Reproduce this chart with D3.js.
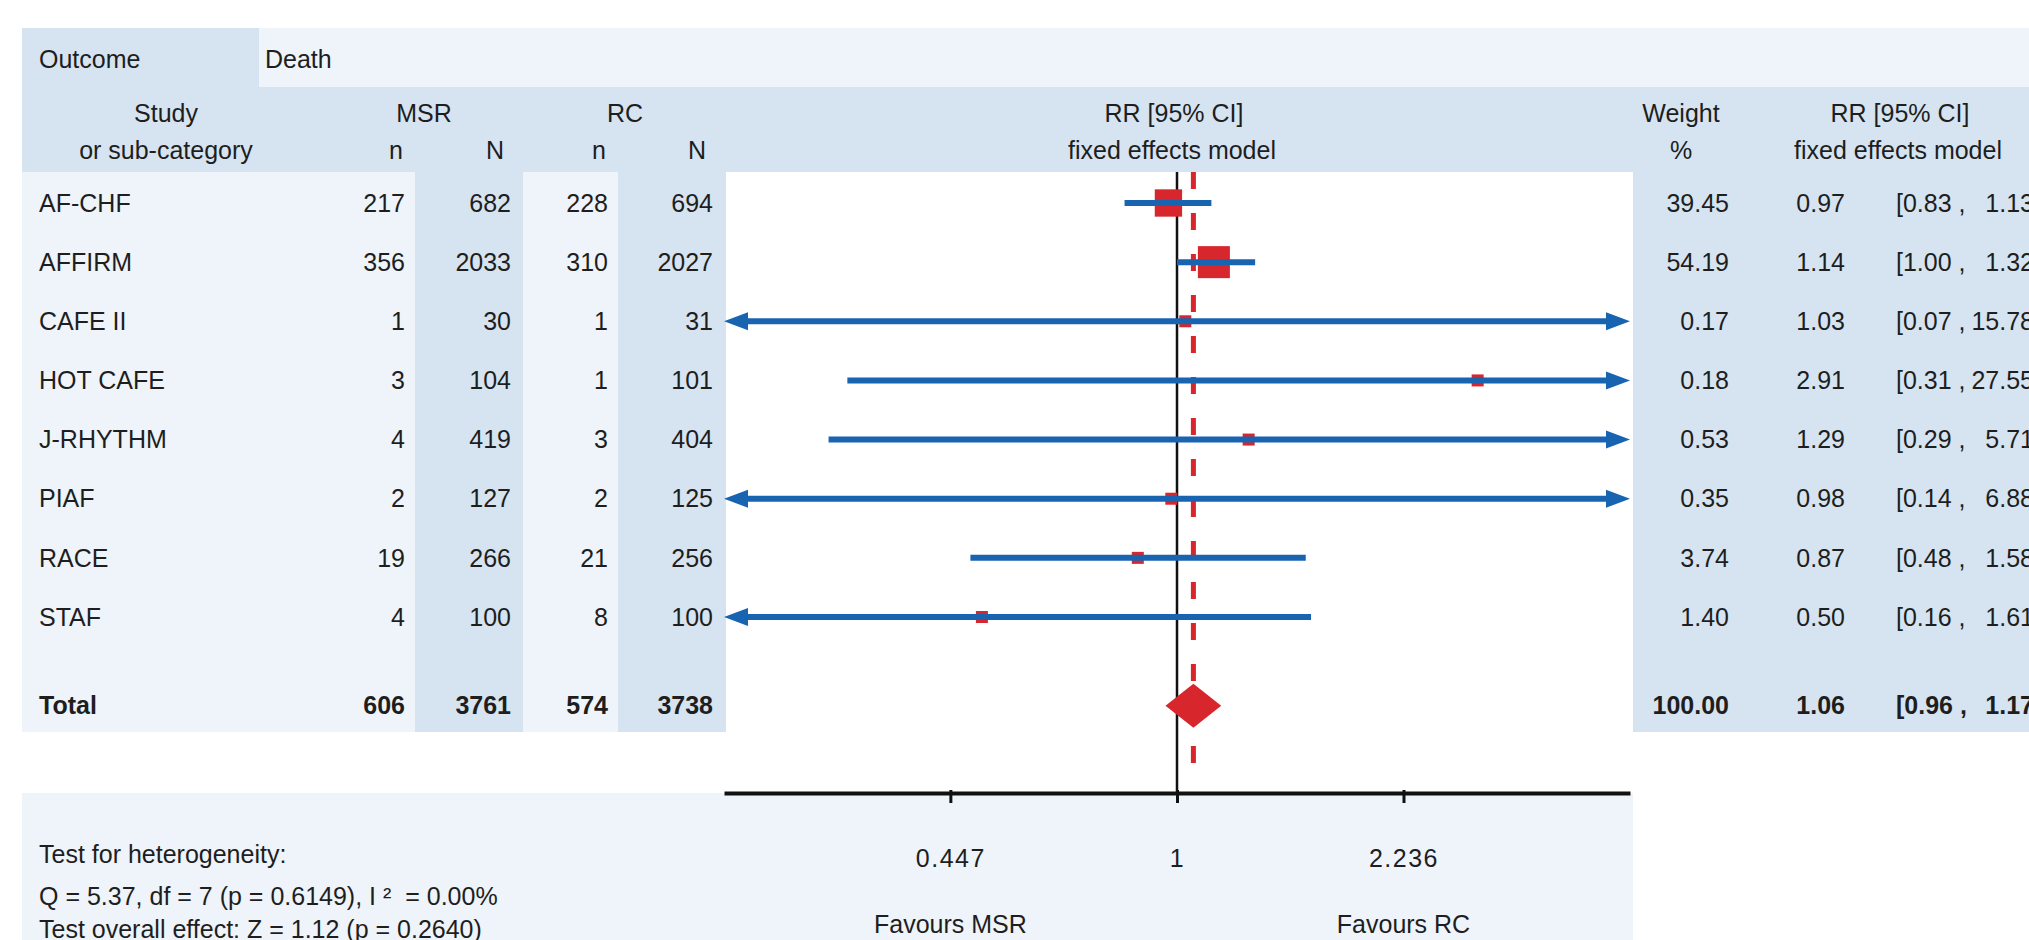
<!DOCTYPE html>
<html>
<head>
<meta charset="utf-8">
<script src="https://cdn.jsdelivr.net/npm/d3@7"></script>
<style>
  body { margin: 0; background: #fff; }
  svg text { font-family: "Liberation Sans", Arial, sans-serif; fill: #1e1e1e; white-space: pre; }
</style>
</head>
<body>
<div id="chart"></div>
<script>
// forest plot data
var studies    = ["AF-CHF", "AFFIRM", "CAFE II", "HOT CAFE", "J-RHYTHM", "PIAF", "RACE", "STAF"];
var msr_n      = [217, 356, 1, 3, 4, 2, 19, 4];
var msr_N      = [682, 2033, 30, 104, 419, 127, 266, 100];
var rc_n       = [228, 310, 1, 1, 3, 2, 21, 8];
var rc_N       = [694, 2027, 31, 101, 404, 125, 256, 100];
var weights    = [39.45, 54.19, 0.17, 0.18, 0.53, 0.35, 3.74, 1.40];
var rr         = [0.97, 1.14, 1.03, 2.91, 1.29, 0.98, 0.87, 0.50];
var ci_low     = [0.83, 1.00, 0.07, 0.31, 0.29, 0.14, 0.48, 0.16];
var ci_high    = [1.13, 1.32, 15.78, 27.55, 5.71, 6.88, 1.58, 1.61];

var total_counts = [606, 3761, 574, 3738];
var total_est    = [100.00, 1.06, 0.96, 1.17];   // weight, rr, low, high

var axis_ticks = [0.447, 1, 2.236];
var favours    = ["Favours MSR", "Favours RC"];
var foot_lines = ["Test for heterogeneity:",
                  "Q = 5.37, df = 7 (p = 0.6149), I \u00B2  = 0.00%",
                  "Test overall effect: Z = 1.12 (p = 0.2640)"];

var W = 2029, H = 940;
var dark = "#d6e4f1", light = "#eef4fa";
var red = "#d7262c", blue = "#1864b1";
var fs = 25;

var svg = d3.select("#chart").append("svg")
  .attr("width", W).attr("height", H);

var x = d3.scaleLog().domain([0.2, 5]).range([724, 1630]);
var y = d3.scaleLinear().domain([0, 7]).range([203, 617]);
var totalRow = 8.5;
var f2 = d3.format(".2f");

// ---- backgrounds
var bg = svg.append("g");
bg.append("rect").attr("x", 22).attr("y", 28).attr("width", 237).attr("height", 59).attr("fill", dark);
bg.append("rect").attr("x", 259).attr("y", 28).attr("width", W - 259).attr("height", 59).attr("fill", light);
bg.append("rect").attr("x", 22).attr("y", 87).attr("width", W - 22).attr("height", 85).attr("fill", dark);
bg.append("rect").attr("x", 22).attr("y", 172).attr("width", 704).attr("height", 560).attr("fill", light);
bg.append("rect").attr("x", 415).attr("y", 172).attr("width", 108).attr("height", 560).attr("fill", dark);
bg.append("rect").attr("x", 618).attr("y", 172).attr("width", 108).attr("height", 560).attr("fill", dark);
bg.append("rect").attr("x", 1633).attr("y", 172).attr("width", W - 1633).attr("height", 560).attr("fill", dark);
bg.append("rect").attr("x", 22).attr("y", 793).attr("width", 1611).attr("height", H - 793).attr("fill", light);

function txt(g, s, px, py, anchor, bold) {
  return g.append("text")
    .attr("x", px).attr("y", py)
    .attr("dy", "0.35em")
    .attr("text-anchor", anchor || "start")
    .attr("font-size", fs)
    .attr("font-weight", bold ? "bold" : null)
    .text(s);
}

// ---- header texts
var hd = svg.append("g");
txt(hd, "Outcome", 39, 59);
txt(hd, "Death", 265, 59);
txt(hd, "Study", 166, 113, "middle");
txt(hd, "or sub-category", 166, 150, "middle");
txt(hd, "MSR", 424, 113, "middle");
txt(hd, "n", 403, 150, "end");
txt(hd, "N", 504, 150, "end");
txt(hd, "RC", 625, 113, "middle");
txt(hd, "n", 606, 150, "end");
txt(hd, "N", 706, 150, "end");
txt(hd, "RR [95% CI]", 1174, 113, "middle");
txt(hd, "fixed effects model", 1172, 150, "middle");
txt(hd, "Weight", 1681, 113, "middle");
txt(hd, "%", 1681, 150, "middle");
txt(hd, "RR [95% CI]", 1900, 113, "middle");
txt(hd, "fixed effects model", 1898, 150, "middle");

// ---- table rows
var tb = svg.append("g");
studies.forEach(function(name, i) {
  var yy = y(i);
  txt(tb, name, 39, yy);
  txt(tb, msr_n[i], 405, yy, "end");
  txt(tb, msr_N[i], 511, yy, "end");
  txt(tb, rc_n[i], 608, yy, "end");
  txt(tb, rc_N[i], 713, yy, "end");
  txt(tb, f2(weights[i]), 1729, yy, "end");
  txt(tb, f2(rr[i]), 1845, yy, "end");
  txt(tb, "[" + f2(ci_low[i]) + " ,", 1896, yy);
  txt(tb, f2(ci_high[i]), 2034, yy, "end");
});
var ty = y(totalRow);
txt(tb, "Total", 39, ty, "start", true);
txt(tb, total_counts[0], 405, ty, "end", true);
txt(tb, total_counts[1], 511, ty, "end", true);
txt(tb, total_counts[2], 608, ty, "end", true);
txt(tb, total_counts[3], 713, ty, "end", true);
txt(tb, f2(total_est[0]), 1729, ty, "end", true);
txt(tb, f2(total_est[1]), 1845, ty, "end", true);
txt(tb, "[" + f2(total_est[2]) + " ,", 1896, ty, "start", true);
txt(tb, f2(total_est[3]), 2034, ty, "end", true);

// ---- plot
var plot = svg.append("g");
var x0 = x.range()[0], x1 = x.range()[1];

plot.append("line")
  .attr("x1", x(1)).attr("x2", x(1))
  .attr("y1", 172).attr("y2", 793)
  .attr("stroke", "#111").attr("stroke-width", 2.5);

plot.append("line")
  .attr("x1", x(total_est[1])).attr("x2", x(total_est[1]))
  .attr("y1", 172).attr("y2", 776)
  .attr("stroke", red).attr("stroke-width", 5)
  .attr("stroke-dasharray", "17,24");

// squares sized by weight
plot.selectAll("rect.sq")
  .data(studies)
  .enter().append("rect")
  .attr("class", "sq")
  .each(function(d, i) {
    var s = Math.max(12, 4.35 * Math.sqrt(weights[i]));
    d3.select(this)
      .attr("x", x(rr[i]) - s / 2).attr("y", y(i) - s / 2)
      .attr("width", s).attr("height", s);
  })
  .attr("fill", red);

// confidence intervals with arrows when clipped
var ah = 24, aw = 9;
studies.forEach(function(d, i) {
  var yy = y(i);
  var lo = ci_low[i] < 0.2, hi = ci_high[i] > 5;
  var xa = lo ? x0 + ah : x(ci_low[i]);
  var xb = hi ? x1 - ah : x(ci_high[i]);
  plot.append("line")
    .attr("x1", xa).attr("x2", xb)
    .attr("y1", yy).attr("y2", yy)
    .attr("stroke", blue).attr("stroke-width", 6);
  if (lo) {
    plot.append("path")
      .attr("d", "M" + x0 + "," + yy + "L" + (x0 + ah) + "," + (yy - aw) + "L" + (x0 + ah) + "," + (yy + aw) + "Z")
      .attr("fill", blue);
  }
  if (hi) {
    plot.append("path")
      .attr("d", "M" + x1 + "," + yy + "L" + (x1 - ah) + "," + (yy - aw) + "L" + (x1 - ah) + "," + (yy + aw) + "Z")
      .attr("fill", blue);
  }
});

// pooled diamond
plot.append("path")
  .attr("d", "M" + x(total_est[2]) + "," + ty +
             "L" + x(total_est[1]) + "," + (ty - 22) +
             "L" + x(total_est[3]) + "," + ty +
             "L" + x(total_est[1]) + "," + (ty + 22) + "Z")
  .attr("fill", red);

// axis
var ax = svg.append("g")
  .attr("transform", "translate(0,793)")
  .call(d3.axisBottom(x)
    .tickValues(axis_ticks)
    .tickFormat(function(d) { return d; })
    .tickSize(10)
    .tickSizeOuter(0)
    .tickPadding(46));
ax.select(".domain").attr("stroke", "#111").attr("stroke-width", 4);
ax.selectAll(".tick line").attr("stroke", "#111").attr("stroke-width", 3).attr("y1", -3);
ax.selectAll(".tick text")
  .attr("font-size", fs)
  .attr("letter-spacing", 1.5)
  .attr("font-family", "Liberation Sans, Arial, sans-serif")
  .attr("fill", "#1e1e1e");

txt(svg, favours[0], x(axis_ticks[0]), 924, "middle");
txt(svg, favours[1], x(axis_ticks[2]), 924, "middle");

// footnotes
txt(svg, foot_lines[0], 39, 854);
txt(svg, foot_lines[1], 39, 896);
txt(svg, foot_lines[2], 39, 929);
</script>
</body>
</html>
